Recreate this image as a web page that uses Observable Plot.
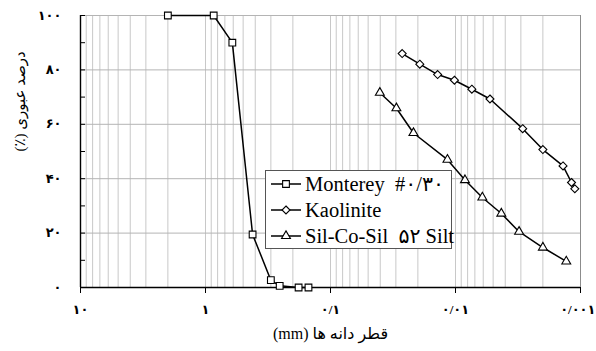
<!DOCTYPE html>
<html>
<head>
<meta charset="utf-8">
<script src="https://cdn.jsdelivr.net/npm/d3@7"></script>
<script src="https://cdn.jsdelivr.net/npm/@observablehq/plot@0.6"></script>
<style>
  body { margin: 0; background: #fff; }
  #chart { position: relative; width: 596px; height: 351px; }
  #legend {
    position: absolute; left: 265px; top: 170px; width: 187px; height: 79px;
    border: 1px solid #555; background: #fff; box-sizing: border-box;
    font-family: "Liberation Serif", "DejaVu Sans", serif; font-size: 20.5px; color: #000;
  }
  #legend .row { height: 26px; display: flex; align-items: center; white-space: pre; }
  #legend svg { margin-left: 5px; margin-right: 4px; flex: none; }
</style>
</head>
<body>
<div id="chart"></div>
<script>
// Grain-size distribution: particle diameter (mm) vs. percent passing
const montereySize = [2.0, 0.86, 0.61, 0.42, 0.30, 0.255, 0.18, 0.15];
const montereyPass = [100, 100, 90, 19.5, 2.7, 0.6, 0, 0];

const kaoliniteSize = [0.0267, 0.0193, 0.0139, 0.0102, 0.0074, 0.0053, 0.0029, 0.0020, 0.00138, 0.00118, 0.00111];
const kaolinitePass = [86, 82.1, 78.3, 76.2, 72.9, 69.3, 58.4, 50.7, 44.7, 38.6, 36.3];

const siltSize = [0.0403, 0.0297, 0.0217, 0.0116, 0.0084, 0.0061, 0.0043, 0.0031, 0.0020, 0.0013];
const siltPass = [71.6, 65.9, 56.8, 47.0, 39.5, 33.1, 27.2, 20.5, 14.7, 9.6];

const seriesNames = ["Monterey  #۰/۳۰", "Kaolinite", "Sil-Co-Sil  ۵۲ Silt"];
const seriesSymbols = ["square", "diamond2", "triangle"];
const seriesRadius = [3.8, 3.6, 3.3];

const xTicks = [10, 1, 0.1, 0.01, 0.001];
const yTicks = [0, 20, 40, 60, 80, 100];
const yMinorTicks = [0, 10, 20, 30, 40, 50, 60, 70, 80, 90, 100];

const xTitle = "قطر دانه ها (mm)";
const yTitle = "درصد عبوری (٪)";

// Persian digits, with "/" as the decimal separator
const faDigits = "۰۱۲۳۴۵۶۷۸۹";
const fa = v => String(v).replace(/\d/g, d => faDigits[d]).replace(".", "/");
// right-to-left embedding for Persian titles
const rtl = s => "\u202B" + s + "\u202C";

const rows = (sizes, pass) => sizes.map((d, i) => ({size: d, pass: pass[i]}));
const series = [
  rows(montereySize, montereyPass),
  rows(kaoliniteSize, kaolinitePass),
  rows(siltSize, siltPass)
];

// log grid: 1..9 within each decade
const gridX = [];
for (let e = -3; e <= 0; ++e) for (let m = 1; m <= 9; ++m) gridX.push(+(m * 10 ** e).toPrecision(3));

const W = 596, H = 351, ML = 80, MR = 16, MT = 15, MB = 64;
const lastTick = xTicks[xTicks.length - 1];

const seriesMarks = series.flatMap((data, i) => [
  Plot.line(data, {x: "size", y: "pass", stroke: "#000", strokeWidth: 1.5}),
  Plot.dot(data, {x: "size", y: "pass", symbol: () => seriesSymbols[i], r: seriesRadius[i],
                  fill: "#fff", stroke: "#000", strokeWidth: 1.1})
]);

const tickText = {fontSize: 13, fontWeight: "bold"};

const chart = Plot.plot({
  width: W, height: H,
  marginLeft: ML, marginRight: MR, marginTop: MT, marginBottom: MB,
  style: {fontFamily: "'Liberation Serif', 'DejaVu Sans', serif", fontSize: "14px", color: "#000", background: "#fff"},
  x: {type: "log", domain: [xTicks[0], lastTick]},
  y: {domain: [0, 100]},
  symbol: {type: "identity"},
  marks: [
    Plot.ruleX(gridX, {stroke: "#c8c8c8", strokeWidth: 1}),
    Plot.ruleY(yTicks.filter(v => v > 0), {stroke: "#b4b4b4", strokeWidth: 1}),
    Plot.ruleX([lastTick], {stroke: "#8c8c8c", strokeWidth: 1}),
    Plot.ruleX([xTicks[0]], {stroke: "#000", strokeWidth: 1.4}),
    Plot.ruleY([0], {stroke: "#000", strokeWidth: 1.4}),
    Plot.tickY(yMinorTicks, {y: d => d, stroke: "#000", strokeWidth: 1, insetRight: W - ML - MR - 5}),
    Plot.axisX(xTicks, {tickSize: 6, tickPadding: 11, tickFormat: d => d === lastTick ? "" : fa(d),
                        ...tickText, label: null, stroke: "#000"}),
    // the last label sits flush with the right edge of the chart
    Plot.text([lastTick], {x: d => d, text: fa, frameAnchor: "bottom", dy: 17, lineAnchor: "top",
                           textAnchor: "end", dx: 15, ...tickText}),
    Plot.axisY(yTicks, {tickSize: 0, tickPadding: 19, tickFormat: fa, ...tickText, label: null}),
    ...seriesMarks,
    Plot.text([rtl(xTitle)], {text: d => d, frameAnchor: "bottom", dy: 51, fontSize: 16}),
    Plot.text([rtl(yTitle)], {text: d => d, frameAnchor: "left", dx: -60, rotate: -90, fontSize: 15})
  ]
});

const holder = document.getElementById("chart");
holder.appendChild(chart);

// legend box inside the plot area
const legend = d3.select(holder).append("div").attr("id", "legend");
seriesNames.forEach((name, i) => {
  const row = legend.append("div").attr("class", "row");
  const svg = row.append("svg").attr("width", 30).attr("height", 14);
  svg.append("line").attr("x1", 0).attr("x2", 30).attr("y1", 7).attr("y2", 7)
    .attr("stroke", "#000").attr("stroke-width", 1.5);
  const symType = {square: d3.symbolSquare, diamond2: d3.symbolDiamond2, triangle: d3.symbolTriangle}[seriesSymbols[i]];
  svg.append("path").attr("transform", "translate(15,7)")
    .attr("d", d3.symbol(symType, Math.PI * seriesRadius[i] ** 2)())
    .attr("fill", "#fff").attr("stroke", "#000").attr("stroke-width", 1.1);
  row.append("span").text(name);
});
</script>
</body>
</html>
